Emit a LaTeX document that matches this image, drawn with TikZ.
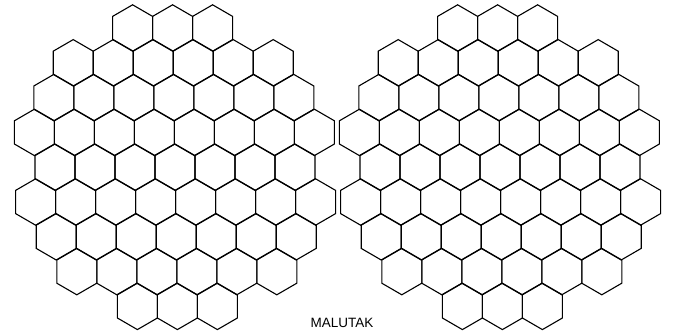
\documentclass[tikz,border=0pt]{standalone}
\usepackage{fontspec}
\setmainfont{Liberation Sans}
\usetikzlibrary{calc}
\tikzset{
    % one cell of the board, pointy side up
    hexline/.style={line width=1.1pt, black, line join=miter},
    hexcell/.pic={
        \draw[hexline] (0,23.2) -- (20,11.6) -- (20,-11.6) -- (0,-23.2)
            -- (-20,-11.6) -- (-20,11.6) -- cycle;
    },
    titletext/.style={font=\fontsize{13.5}{15}\selectfont, anchor=base, black}
}
% round board of cells around the current origin
\newcommand{\hexdisc}{%
    \foreach \j in {-4,...,4}{
        \foreach \i in {-4,...,4}{
            \pgfmathsetmacro{\dx}{40*\i+20*abs(mod(\j,2))}
            \pgfmathsetmacro{\dy}{-34.8*\j}
            \pgfmathtruncatemacro{\inside}{((\dx/10)^2+(\dy/10)^2<225)?1:0}
            \ifnum\inside=1
                \pic at (\dx+0.6*\j,\dy) {hexcell};
            \fi
        }
    }%
}

\begin{document}
\begin{tikzpicture}[x=1pt,y=1pt]
    \useasboundingbox (0,0) rectangle (674,332);

    % ===== left board =====
    \begin{scope}[xshift=175pt,yshift=164.8pt]
        \hexdisc
    \end{scope}

    % ===== right board =====
    \begin{scope}[xshift=500pt,yshift=164.8pt]
        \hexdisc
    \end{scope}

    % caption
    \node[titletext] (malutak) at (342,4.5) {MALUTAK};
\end{tikzpicture}
\end{document}
